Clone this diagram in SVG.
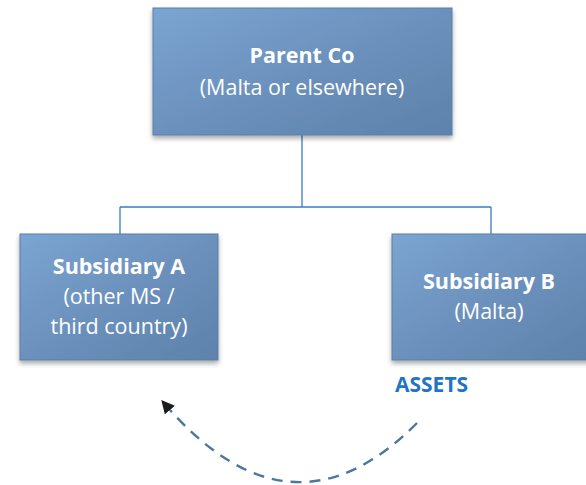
<svg xmlns="http://www.w3.org/2000/svg" width="586" height="485" viewBox="0 0 586 485">
  <defs>
    <linearGradient id="boxFill" x1="0" y1="0" x2="1" y2="1">
      <stop offset="0" stop-color="#7ba5d2"/>
      <stop offset="0.55" stop-color="#6a8fba"/>
      <stop offset="1" stop-color="#5d82ab"/>
    </linearGradient>
    <filter id="shadow" x="-10%" y="-10%" width="120%" height="130%">
      <feGaussianBlur in="SourceAlpha" stdDeviation="2.5"/>
      <feOffset dx="0" dy="3" result="b"/>
      <feComponentTransfer><feFuncA type="linear" slope="0.35"/></feComponentTransfer>
      <feMerge><feMergeNode/><feMergeNode in="SourceGraphic"/></feMerge>
    </filter>
    <marker id="arrowHead" viewBox="0 0 10 10" refX="8" refY="5" markerWidth="5.5" markerHeight="5.5" orient="auto-start-reverse" markerUnits="strokeWidth">
      <path d="M0,0 L10,5 L0,10 z" fill="#1c1c1c"/>
    </marker>
  </defs>
  <style>
    .box { fill: url(#boxFill); stroke: #5a7ea6; stroke-width: 1; filter: url(#shadow); }
    .lbl { font-family: "Open Sans", "Liberation Sans", sans-serif; fill: #ffffff; text-anchor: middle; font-size: 21.5px; }
    .bold { font-weight: bold; }
    .tree { fill: none; stroke: #3a7ec0; stroke-width: 1.3; }
    .flow { fill: none; stroke: #4a76a0; stroke-width: 2.4; stroke-dasharray: 11 8; }
    .tag { font-family: "Open Sans", "Liberation Sans", sans-serif; font-weight: bold; font-size: 21px; fill: #1f74c4; }
  </style>

  <g id="connectors">
    <path class="tree" d="M302,135 V207 M120,207 H491 M120,207 V234 M491,207 V234"/>
    <path class="flow" d="M417,423 Q290,551 163,402" marker-end="url(#arrowHead)"/>
  </g>

  <g id="parent">
    <rect class="box" x="153" y="8" width="299" height="127"/>
    <text class="lbl bold" x="302" y="63">Parent Co</text>
    <text class="lbl" x="302" y="95">(Malta or elsewhere)</text>
  </g>

  <g id="subsidiary-a">
    <rect class="box" x="20" y="234" width="198" height="126"/>
    <text class="lbl bold" x="119" y="274">Subsidiary A</text>
    <text class="lbl" x="119" y="304">(other MS /</text>
    <text class="lbl" x="119" y="334">third country)</text>
  </g>

  <g id="subsidiary-b">
    <rect class="box" x="392" y="234" width="200" height="126"/>
    <text class="lbl bold" x="489" y="289">Subsidiary B</text>
    <text class="lbl" x="489" y="319">(Malta)</text>
  </g>

  <g id="assets-label">
    <text class="tag" x="395" y="392">ASSETS</text>
  </g>
</svg>
